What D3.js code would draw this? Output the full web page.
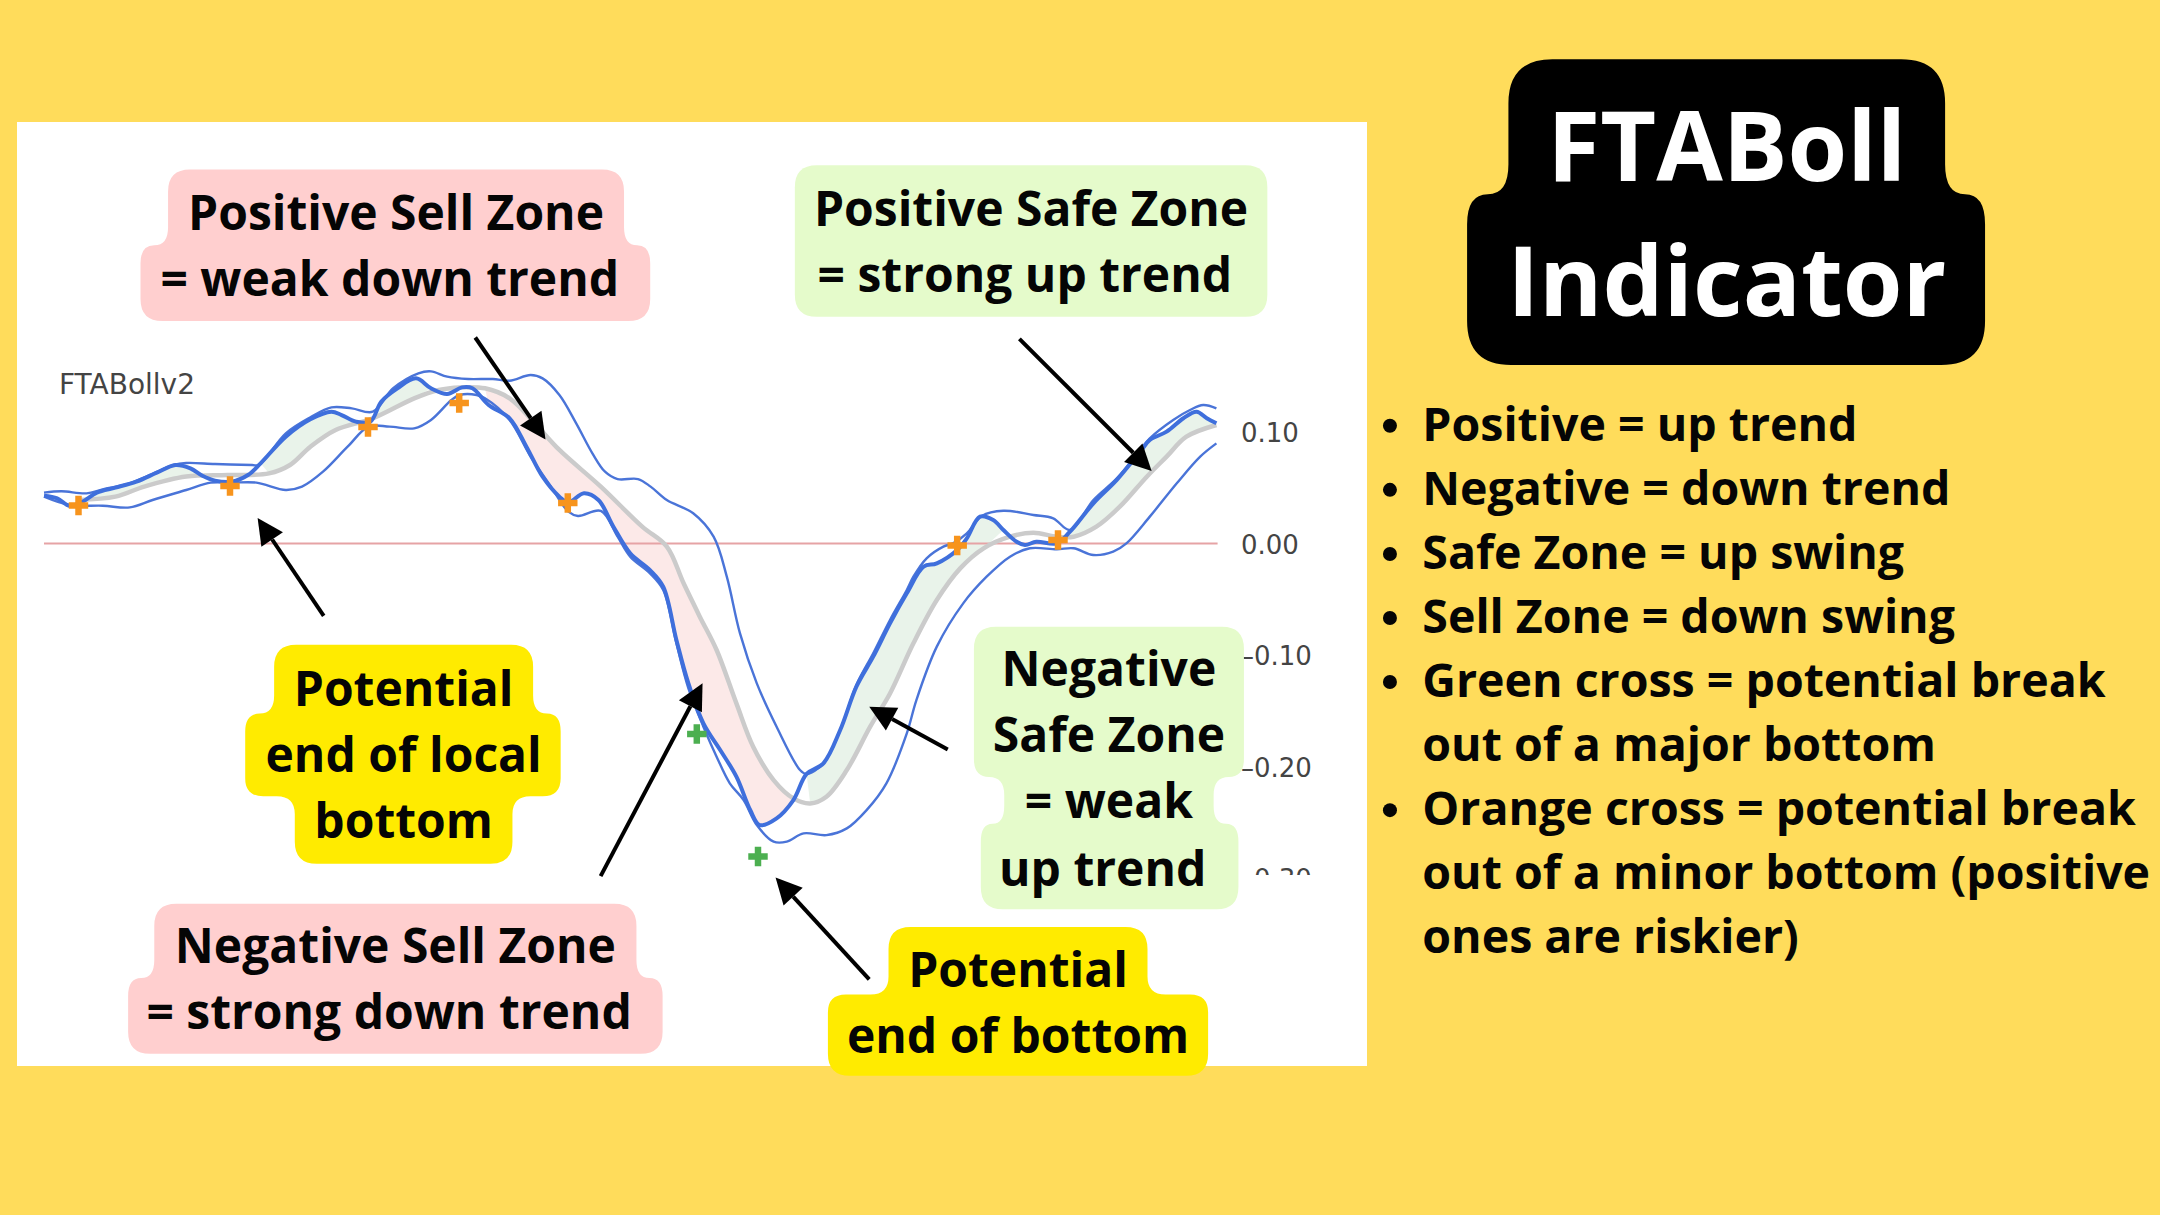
<!DOCTYPE html>
<html>
<head>
<meta charset="utf-8">
<title>FTABoll Indicator</title>
<script src="https://cdn.jsdelivr.net/npm/d3@7"></script>
<style>
  html, body { margin: 0; padding: 0; background: #ffdc5b; }
  svg { display: block; }
  text { font-family: "Open Sans", sans-serif; }
</style>
</head>
<body>
<svg id="chart" width="2160" height="1215"></svg>
<script>
// indicator values (x = bar number, y = indicator value)
var upperBars = [0,2.9,7.1,9.8,14,17.4,21.6,23.7,28.5,34.7,35.8,40.3,44.4,47.9,51.3,54.8,58.2,62.4,64.5,67.2,70.7,74.8,77.6,81.1,83.1,85.9,88.7,91.4,93.5,95.6,99,101.1,103.8,108.2,111.6,113.8,116,118.8,122.1,126,127.1,129.9,132.7,135.4,138.2,141,143.8,144.9,147.1,149.9,151.5,153.8,156.3,159.9,164.9,168.2,171,174.9,178.8,182.7,184.3,188.2,191,193.2,195.4];
var upperVals = [.0456,.0468,.045,.0486,.0534,.0608,.0704,.0722,.0713,.0704,.0704,.0988,.1132,.1221,.1212,.1182,.1392,.1526,.1544,.1496,.1475,.1475,.146,.1511,.1481,.1332,.1078,.0809,.0644,.0578,.0578,.051,.039,.0271,.0061,-.0297,-.0806,-.1254,-.1643,-.2031,-.2067,-.1972,-.1673,-.1269,-.0985,-.0686,-.0417,-.0298,-.0133,-.0028,.0001,.0091,.0247,.0294,.0256,.0226,.0121,.039,.0584,.0839,.0943,.1108,.1197,.1242,.1212];

var fastBars = [0,2.2,4.3,6.4,8.8,11.9,15.4,18.8,21.9,24.4,26.4,28.5,31.3,34,36.1,40.3,44.4,47.9,49.6,52,54.4,56.2,58.9,62,64.5,67.2,69.7,71.4,74.1,77.6,80.4,83.1,85.9,87.4,90,92.4,94.9,97.7,101,103.2,105.4,107.4,109.9,112.7,115.4,117.7,119.3,122.1,124.9,127.1,129.9,132.7,135.4,138.2,141,143.8,146.6,148.8,152.2,153.8,156,158.2,159.9,162.1,163.5,165.4,168.8,171,174.9,178.8,182.7,184.3,187.1,189.9,192.1,193.8,195.4];
var fastVals = [.0429,.0405,.0336,.0375,.0456,.0501,.0555,.0635,.0704,.0674,.0608,.0564,.0555,.0614,.0719,.0958,.1114,.1182,.1152,.1093,.1093,.1272,.1392,.1481,.1392,.1341,.14,.1392,.1242,.1123,.0868,.0599,.042,.0369,.045,.039,.0151,-.0088,-.0238,-.0387,-.0865,-.1254,-.1613,-.1852,-.2091,-.239,-.2525,-.2465,-.2301,-.2067,-.1972,-.1673,-.1284,-.1015,-.0716,-.0447,-.0208,-.0178,-.0058,.0046,.0241,.0211,.0121,.0016,-.0013,.0016,.0001,.0106,.036,.057,.0824,.0928,.1003,.1123,.1182,.1123,.1078];

var lowerBars = [0,4.3,9.8,14.3,18.1,23.7,27.8,31.3,35.4,40.3,43,46.5,50.6,54.1,57.6,61.7,64.5,67.9,69.3,72.1,73.5,77.6,81.1,84.5,87.4,89,92.8,95.6,97.7,101,103.2,105.4,107.4,109.9,112.1,114.3,116.6,118.8,121.6,123.8,126.6,130.4,133.8,137.1,140.4,143.8,145.4,148.8,153.2,157.1,161,164.3,168.8,171.6,174.9,178.2,180.4,184.3,188.8,192.7,195.4];
var lowerVals = [.042,.0345,.0339,.0324,.039,.048,.0546,.0546,.0546,.048,.051,.0644,.0868,.1048,.1048,.1033,.1108,.1287,.1332,.1332,.1302,.1108,.0779,.051,.0286,.0247,.0292,.0061,-.0118,-.0268,-.0417,-.0895,-.1299,-.1643,-.1912,-.2151,-.2301,-.2525,-.2674,-.2674,-.26,-.2615,-.2555,-.2391,-.2151,-.1703,-.1404,-.0925,-.0537,-.0298,-.0118,-.0043,-.0052,-.0043,-.0103,-.0073,.0001,.0241,.054,.0779,.0898];

var midBars = [5.7,11.9,16.7,23.7,30.6,37.5,41,44.4,48.6,54.8,61.7,65.8,69.3,73.5,77.6,81.8,85.9,92.8,99.7,103.8,106.6,109.3,112.1,115.4,118.2,121.6,124.9,127.7,130.4,133.8,137.7,141,144.9,148.8,152.7,156.6,161,164.9,168.8,171.6,175.4,179.3,183.8,187.1,190.4,195.4];
var midVals = [.039,.042,.051,.06,.0614,.0629,.0704,.0868,.1018,.1123,.1302,.1377,.14,.1392,.1302,.1078,.0839,.051,.0151,-.0028,-.0357,-.0656,-.0955,-.1434,-.1822,-.2122,-.2286,-.2331,-.2271,-.2032,-.1643,-.1345,-.0895,-.0507,-.0223,-.0043,.0061,.0097,.0061,.0061,.0151,.033,.0599,.0779,.0958,.1063];

var orangeBars = [5.75,31,54,69.2,87.3,152.2,169];
var orangeVals = [.034,.0516,.1044,.126,.0363,-.0018,.0031];
var greenBars = [108.8,119];
var greenVals = [-.1708,-.2807];

var tickVals = [0.10,0,-0.10,-0.20,-0.30];
var tickLabels = ["0.10","0.00","\u20130.10","\u20130.20","\u20130.30"];

// bar ranges where the fast line is above (safe) or below (sell) the grey line
var safeRanges = [[6.4,27],[34.5,53],[54,65],[125,160],[168,195.4]];
var sellRanges = [[72,124.9]];

var bulletLines = [
	["Positive = up trend", true],
	["Negative = down trend", true],
	["Safe Zone = up swing", true],
	["Sell Zone = down swing", true],
	["Green cross = potential break", true],
	["out of a major bottom", false],
	["Orange cross = potential break", true],
	["out of a minor bottom (positive", false],
	["ones are riskier)", false]
];

var svg = d3.select("#chart");
var k = 2160 / 1568; // the layout numbers below were measured on a 1568 wide copy

svg.append("rect").attr("width", 2160).attr("height", 1215).attr("fill", "#ffdc5b");
svg.append("rect").attr("x", 17).attr("y", 122).attr("width", 1350).attr("height", 944).attr("fill", "#ffffff");

var x = d3.scaleLinear().domain([0, 196]).range([44, 1220]);
var y = d3.scaleLinear().domain([0.1, 0]).range([432, 543.5]);

function zip(bars, vals) {
	return bars.map(function (b, i) { return {bar: b, val: vals[i]}; });
}
var upper = zip(upperBars, upperVals);
var fast = zip(fastBars, fastVals);
var lower = zip(lowerBars, lowerVals);
var mid = zip(midBars, midVals);

var line = d3.line()
	.x(function (d) { return x(d.bar); })
	.y(function (d) { return y(d.val); })
	.curve(d3.curveCatmullRom.alpha(0.5));

var polyLine = d3.line()
	.x(function (d) { return x(d.bar); })
	.y(function (d) { return y(d.val); });

// zones: fast line forward, grey line back
function drawZones(ranges, color) {
	ranges.forEach(function (r) {
		var inRange = function (d) { return d.bar >= r[0] && d.bar <= r[1]; };
		var pts = fast.filter(inRange).concat(mid.filter(inRange).reverse());
		svg.append("path")
			.attr("d", polyLine(pts) + "Z")
			.attr("fill", color);
	});
}
drawZones(safeRanges, "#e9f3ea");
drawZones(sellRanges, "#fce9e8");

svg.append("line")
	.attr("x1", x(0)).attr("x2", x(195.6))
	.attr("y1", y(0)).attr("y2", y(0))
	.attr("stroke", "#e6a3a5").attr("stroke-width", 2);

svg.append("path").attr("d", line(mid)).attr("fill", "none")
	.attr("stroke", "#cbcbcb").attr("stroke-width", 4.5);

[upper, lower].forEach(function (s) {
	svg.append("path").attr("d", line(s)).attr("fill", "none")
		.attr("stroke", "#4a74d8").attr("stroke-width", 2.4);
});
svg.append("path").attr("d", line(fast)).attr("fill", "none")
	.attr("stroke", "#3f6fdc").attr("stroke-width", 4);

function drawCrosses(bars, vals, color) {
	svg.append("g").selectAll("path")
		.data(zip(bars, vals))
		.enter()
		.append("path")
		.attr("d", d3.symbol().type(d3.symbolCross).size(210))
		.attr("transform", function (d) { return "translate(" + x(d.bar) + "," + y(d.val) + ")"; })
		.attr("fill", color);
}
drawCrosses(orangeBars, orangeVals, "#f7941d");
drawCrosses(greenBars, greenVals, "#4caf50");

// axis on the right, bottom label is cut off like in the screenshot
svg.append("clipPath").attr("id", "axisClip")
	.append("rect").attr("x", 0).attr("y", 400).attr("width", 140).attr("height", 475);

var axis = d3.axisRight(y)
	.tickValues(tickVals)
	.tickSize(0)
	.tickPadding(21)
	.tickFormat(function (d, i) { return tickLabels[i]; });

var axisG = svg.append("g")
	.attr("transform", "translate(1220,0)")
	.attr("clip-path", "url(#axisClip)")
	.call(axis);
axisG.select(".domain").remove();
axisG.selectAll("text")
	.attr("fill", "#444444")
	.attr("dy", "0.38em")
	.style("font-family", "'DejaVu Sans', sans-serif")
	.style("font-size", "26px");

svg.append("text")
	.attr("x", 59).attr("y", 394)
	.attr("fill", "#444444")
	.style("font-family", "'DejaVu Sans', sans-serif")
	.style("font-size", "28px")
	.text("FTABollv2");

// arrows
function arrow(x1, y1, x2, y2) {
	x1 *= k; y1 *= k; x2 *= k; y2 *= k;
	var a = Math.atan2(y2 - y1, x2 - x1);
	var len = 26, wid = 13;
	var bx = x2 - len * Math.cos(a), by = y2 - len * Math.sin(a);
	svg.append("line")
		.attr("x1", x1).attr("y1", y1).attr("x2", bx).attr("y2", by)
		.attr("stroke", "#000").attr("stroke-width", 4);
	svg.append("path")
		.attr("d", "M" + x2 + "," + y2 +
			"L" + (bx - wid * Math.sin(a)) + "," + (by + wid * Math.cos(a)) +
			"L" + (bx + wid * Math.sin(a)) + "," + (by - wid * Math.cos(a)) + "Z")
		.attr("fill", "#000");
}
arrow(345, 245, 396, 319);
arrow(740, 246, 836, 342);
arrow(235, 447, 187, 376);
arrow(436, 636, 510, 496);
arrow(688, 544, 631, 513);
arrow(631, 711, 563, 637);

// stacked rounded boxes like the text highlight in the original, rows = [x0,x1,y0,y1]
function pillPath(rows, r, h) {
	var p = d3.path();
	var n = rows.length;
	var first = rows[0];
	p.moveTo(first[0] + r, first[2]);
	p.lineTo(first[1] - r, first[2]);
	p.quadraticCurveTo(first[1], first[2], first[1], first[2] + r);
	for (var i = 0; i < n - 1; i += 1) {
		stepSide(p, rows[i][1], rows[i + 1][1], rows[i][3], h, 1);
	}
	var last = rows[n - 1];
	p.lineTo(last[1], last[3] - r);
	p.quadraticCurveTo(last[1], last[3], last[1] - r, last[3]);
	p.lineTo(last[0] + r, last[3]);
	p.quadraticCurveTo(last[0], last[3], last[0], last[3] - r);
	for (var j = n - 1; j > 0; j -= 1) {
		stepSide(p, rows[j][0], rows[j - 1][0], rows[j][2], h, -1);
	}
	p.lineTo(first[0], first[2] + r);
	p.quadraticCurveTo(first[0], first[2], first[0] + r, first[2]);
	p.closePath();
	return p.toString();
}

// go from one row edge to the next one at height yy, rounding both corners
function stepSide(p, from, to, yy, h, dir) {
	var dx = to - from;
	var s = Math.min(h, Math.abs(dx) / 2);
	var sign = dx >= 0 ? 1 : -1;
	p.lineTo(from, yy - dir * h);
	p.quadraticCurveTo(from, yy, from + sign * s, yy);
	p.lineTo(to - sign * s, yy);
	p.quadraticCurveTo(to, yy, to, yy + dir * h);
}

function label(rows, lines, cx, baselines, fill, color, size, r, h) {
	svg.append("path")
		.attr("d", pillPath(rows.map(function (q) { return q.map(function (v) { return v * k; }); }), r, h))
		.attr("fill", fill);
	lines.forEach(function (t, i) {
		svg.append("text")
			.attr("x", cx * k).attr("y", baselines[i] * k)
			.attr("text-anchor", "middle")
			.attr("font-weight", 700)
			.attr("font-size", size)
			.attr("fill", color)
			.text(t);
	});
}

var pink = "#ffcfcf", pale = "#e5fbcb", yellow = "#ffeb00", ink = "#050505";
var nb = "\u00a0"; // some lines in the original have a trailing space that shifts them left
label([[122,453,123,178],[102,472,178,233]], ["Positive Sell Zone", "= weak down trend" + nb], 287.5, [167, 215], pink, ink, 48, 22, 18);
label([[577,920,120,230]], ["Positive Safe Zone", "= strong up trend" + nb], 748.5, [164, 212], pale, ink, 48, 22, 18);
label([[199,387,468,518],[178,407,518,578],[214,372,578,627]], ["Potential", "end of local", "bottom"], 293, [512.5, 560.5, 608.5], yellow, ink, 48, 22, 18);
label([[707,903,455,564],[729,881,564,598],[712,899,598,660]], ["Negative", "Safe Zone", "= weak", "up trend" + nb], 805, [498, 546, 594, 643], pale, ink, 48, 22, 18);
label([[112,462,656,710],[93,481,710,765]], ["Negative Sell Zone", "= strong down trend" + nb], 287, [699, 747], pink, ink, 48, 22, 18);
label([[645,833,673,722],[601,877,722,781]], ["Potential", "end of bottom"], 739, [716.5, 764.5], yellow, ink, 48, 22, 18);

label([[1095,1412,43,141],[1065,1441,141,265]], ["FTABoll", "Indicator"], 1253.5, [131.5, 229.5], "#000000", "#ffffff", 96.5, 44, 30);

// bullet list
var listTop = 320;
var listStep = 46.5;
bulletLines.forEach(function (b, i) {
	var by = (listTop + i * listStep) * k;
	svg.append("text")
		.attr("x", 1032.5 * k).attr("y", by)
		.attr("font-weight", 700)
		.attr("font-size", 46.5)
		.attr("fill", ink)
		.text(b[0]);
	if (b[1]) {
		svg.append("circle")
			.attr("cx", 1009 * k).attr("cy", by - 15)
			.attr("r", 7)
			.attr("fill", ink);
	}
});
</script>
</body>
</html>
